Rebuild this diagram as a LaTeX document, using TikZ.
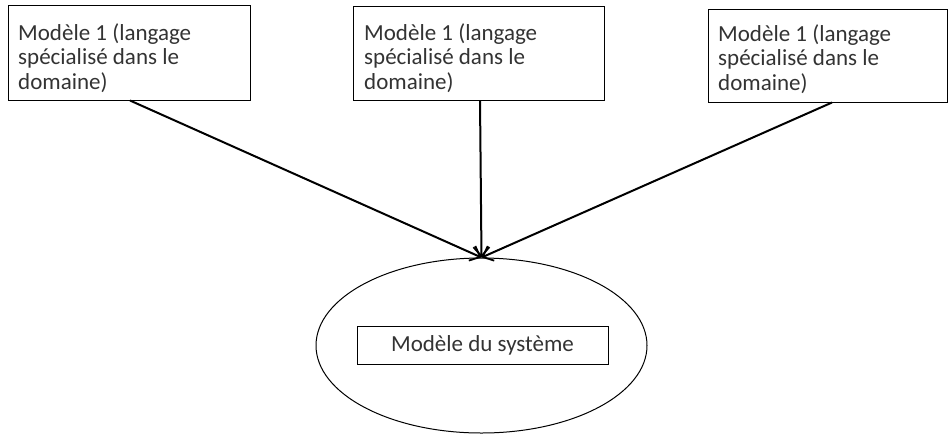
\documentclass[tikz,border=0pt]{standalone}
\usepackage{fontspec}
\setmainfont{Carlito}
\usetikzlibrary{shapes.geometric,arrows.meta}
\definecolor{txtgray}{gray}{0.2}
\begin{document}
\begin{tikzpicture}[x=1pt,y=-1pt,
  box/.style={draw=black,line width=1pt,rectangle,inner sep=0pt},
  txt/.style={inner sep=0pt,anchor=north west,align=left,text=txtgray,font=\fontsize{23}{24.5}\selectfont},
  conn/.style={draw=black,line width=2pt,-{Straight Barb[length=9pt,width=16pt,line width=1.8pt]}}
]
\useasboundingbox (0,0) rectangle (949,434);
% boxes
\node[box,minimum width=242pt,minimum height=95pt] (m1) at (129,52.5) {};
\node[box,minimum width=251pt,minimum height=94pt] (m2) at (478.5,53) {};
\node[box,minimum width=239pt,minimum height=93pt] (m3) at (827.5,55.5) {};
\node[txt] (t1) at (18,23) {Modèle 1 (langage\\spécialisé dans le\\domaine)};
\node[txt] (t2) at (364,23) {Modèle 1 (langage\\spécialisé dans le\\domaine)};
\node[txt] (t3) at (718,24) {Modèle 1 (langage\\spécialisé dans le\\domaine)};
% system
\node[draw=black,line width=1pt,ellipse,minimum width=331pt,minimum height=175pt,inner sep=0pt] (sys) at (481.5,345.5) {};
\node[box,minimum width=251pt,minimum height=38pt,text=txtgray,font=\fontsize{23}{24.5}\selectfont] (inner) at (482.5,345) {Modèle du système};
% connectors
\draw[conn] ([xshift=1pt]m1.south) -- (sys.north);
\draw[conn] ([xshift=1.5pt]m2.south) -- (sys.north);
\draw[conn] ([xshift=4.5pt]m3.south) -- (sys.north);
\end{tikzpicture}
\end{document}
